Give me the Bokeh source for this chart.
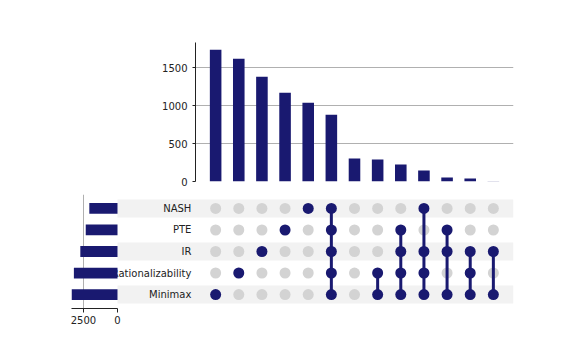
from bokeh.plotting import figure
from bokeh.layouts import column, row
from bokeh.models import Range1d, FixedTicker, LinearAxis, Grid
from bokeh.core.properties import value
from bokeh.embed import file_html
from bokeh.resources import INLINE

# ---- data ----
categories = ["Minimax", "Rationalizability", "IR", "PTE", "NASH"]  # bottom -> top
intersection_counts = [1740, 1620, 1382, 1171, 1040, 882, 303, 289, 224, 145, 53, 40, 2]
intersection_members = [
    ["Minimax"],
    ["Rationalizability"],
    ["IR"],
    ["PTE"],
    ["NASH"],
    ["NASH", "PTE", "IR", "Rationalizability", "Minimax"],
    [],
    ["Rationalizability", "Minimax"],
    ["PTE", "IR", "Rationalizability", "Minimax"],
    ["NASH", "IR", "Rationalizability", "Minimax"],
    ["PTE", "IR", "Minimax"],
    ["IR", "Rationalizability", "Minimax"],
    ["IR", "Minimax"],
]
top_ticks = [0, 500, 1000, 1500]
side_ticks = [0, 2500]

set_totals = [sum(c for c, m in zip(intersection_counts, intersection_members) if cat in m)
              for cat in categories]

# ---- style ----
NAVY = "#191970"
FONT = "DejaVu Sans"
TXT = "#222222"
GRID = "#b0b0b0"

ncol = len(intersection_counts)
cols = list(range(ncol))
rows = list(range(len(categories)))

# ---- layout geometry (pixels) ----
W = 569
TOP_LEFT, RIGHT = 195, 56
BOT_LEFT, SIDE_W = 71, 46           # side-bar panel: 71..117
X_PAD = 0.87
top_frame_px = W - TOP_LEFT - RIGHT
unit_px = top_frame_px / (ncol - 1 + 2 * X_PAD)
bot_frame_px = W - BOT_LEFT - RIGHT
mx_end = ncol - 1 + X_PAD
mx_start = mx_end - bot_frame_px / unit_px
max_total = max(set_totals)
sets_end = max_total * (1 - bot_frame_px / SIDE_W)
yr = Range1d(-0.65, len(categories) - 1 + 0.65)

# ---- top bar chart ----
top = figure(width=W, height=186, x_range=Range1d(-X_PAD, mx_end),
             y_range=Range1d(0, 1835), output_backend="svg", toolbar_location=None,
             x_axis_location=None, min_border_left=TOP_LEFT, min_border_right=RIGHT,
             min_border_top=42, min_border_bottom=5)
top.outline_line_color = None
top.xgrid.visible = False
top.ygrid.ticker = FixedTicker(ticks=top_ticks[1:])
top.ygrid.grid_line_color = GRID
top.yaxis.ticker = FixedTicker(ticks=top_ticks)
top.yaxis.minor_tick_line_color = None
top.yaxis.major_tick_out = 3
top.yaxis.major_tick_in = 0
top.yaxis.major_label_standoff = 5
top.yaxis.axis_line_color = TXT
top.yaxis.major_tick_line_color = TXT
top.yaxis.major_label_text_font = FONT
top.yaxis.major_label_text_font_size = "10px"
top.yaxis.major_label_text_color = TXT
top.vbar(x=cols, top=intersection_counts, width=0.5, fill_color=NAVY, line_color=None)

# ---- bottom: set sizes + matrix ----
mat = figure(width=W, height=150, x_range=Range1d(mx_start, mx_end), y_range=yr,
             output_backend="svg", toolbar_location=None, x_axis_location=None,
             y_axis_location=None, min_border_left=BOT_LEFT, min_border_right=RIGHT,
             min_border_top=8, min_border_bottom=28)
mat.outline_line_color = None
mat.grid.visible = False
mat.extra_x_ranges = {"sets": Range1d(max_total, sets_end)}

sax = LinearAxis(x_range_name="sets", ticker=FixedTicker(ticks=side_ticks),
                 bounds=(0, max_total))
sax.minor_tick_line_color = None
sax.major_tick_out = 4
sax.major_tick_in = 0
sax.major_label_standoff = 3
sax.axis_line_color = TXT
sax.major_tick_line_color = TXT
sax.major_label_text_font = FONT
sax.major_label_text_font_size = "10px"
sax.major_label_text_color = TXT
mat.add_layout(sax, "below")
mat.add_layout(Grid(dimension=0, axis=sax, ticker=FixedTicker(ticks=[2500]),
                    x_range_name="sets", grid_line_color=GRID))

shaded = [r for r in rows if r % 2 == 0]
mat.hbar(y=shaded, left=0, right=sets_end, height=0.84, fill_color="#f2f2f2",
         line_color=None, x_range_name="sets")

LABEL_X = -1.05
mat.text(x=[LABEL_X] * len(categories), y=rows, text=categories, text_align="right",
         text_baseline="middle", text_font=value(FONT), text_font_size=value("10px"),
         text_color=TXT)

mat.hbar(y=rows, left=0, right=set_totals, height=0.5, fill_color=NAVY, line_color=None,
         x_range_name="sets")

gx, gy, fx, fy = [], [], [], []
sx, sy0, sy1 = [], [], []
for i, mem in enumerate(intersection_members):
    idx = [categories.index(m) for m in mem]
    for r in rows:
        if r in idx:
            fx.append(i); fy.append(r)
        else:
            gx.append(i); gy.append(r)
    if len(idx) >= 2:
        sx.append(i); sy0.append(min(idx)); sy1.append(max(idx))

mat.scatter(x=gx, y=gy, size=11, fill_color="#d3d3d3", line_color=None)
mat.segment(x0=sx, y0=sy0, x1=sx, y1=sy1, line_color=NAVY, line_width=3)
mat.scatter(x=fx, y=fy, size=11, fill_color=NAVY, line_color=None)

layout = column(row(top), row(mat), spacing=0)
open("out.html", "w").write(file_html(layout, INLINE))
